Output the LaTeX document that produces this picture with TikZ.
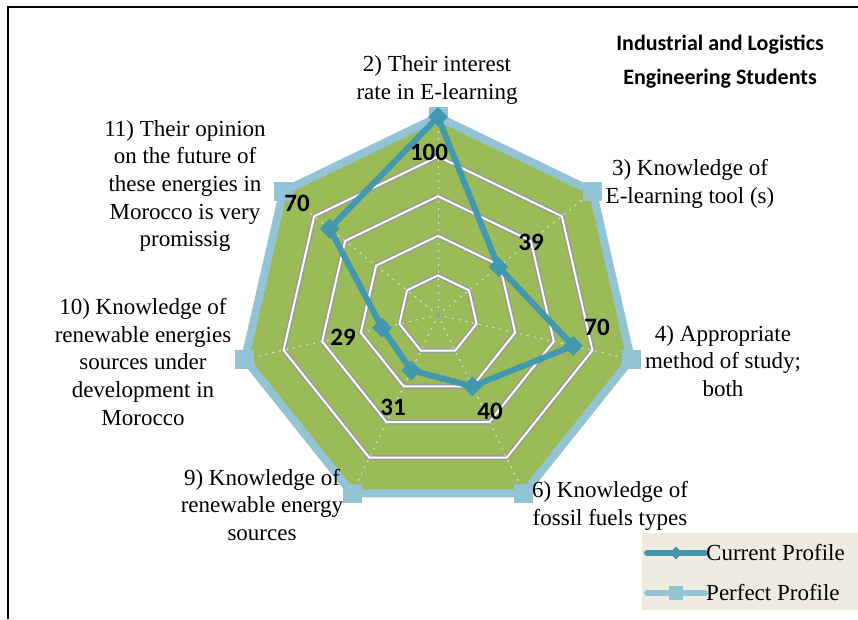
\documentclass[tikz,border=0pt]{standalone}
\usepackage{fontspec}
\setmainfont{Liberation Serif}
\newfontfamily\calibri{Carlito}
\usetikzlibrary{shapes.geometric}
\definecolor{chartgreen}{HTML}{9BBB59}
\definecolor{currentblue}{HTML}{4198AF}
\definecolor{perfectblue}{HTML}{93C4D6}
\definecolor{legendbg}{HTML}{EEECE1}
\definecolor{ringgray}{HTML}{9A9A9A}
\begin{document}
\begin{tikzpicture}[x=1pt,y=1pt,axislabel/.style={align=center,inner sep=0pt,font=\fontsize{23}{27.7}\selectfont},value/.style={inner sep=0pt,font=\calibri\bfseries\fontsize{25}{25}\selectfont},curline/.style={currentblue,line width=6pt,line join=round},perfline/.style={perfectblue,line width=8pt,line join=miter},curmark/.style={diamond,fill=currentblue,minimum size=20pt,inner sep=0pt},perfmark/.style={rectangle,fill=perfectblue,minimum size=19pt,inner sep=0pt},spoke/.style={white!75!gray,line width=1pt,dash pattern=on 2pt off 5pt},legendtext/.style={anchor=west,inner sep=0pt,font=\fontsize{23}{27.7}\selectfont}]
\useasboundingbox (0,0) rectangle (858,619);
\draw[line width=2pt] (8,0) -- (8,612) -- (858,612);
\begin{scope}[shift={(438,304)}]
\fill[chartgreen] (90:198) \foreach \k in {1,...,6}{ -- ({90-\k*360/7}:198)} -- cycle;
\foreach \r in {39.6,79.2,118.8,158.4}{
\draw[ringgray,line width=5pt] (90:\r) \foreach \k in {1,...,6}{ -- ({90-\k*360/7}:\r)} -- cycle;
\draw[white,line width=2pt] (90:\r) \foreach \k in {1,...,6}{ -- ({90-\k*360/7}:\r)} -- cycle;
}
\foreach \k in {0,...,6} \draw[spoke] (0,0) -- ({90-\k*360/7}:198);
\fill[ringgray] (0,0) circle (2.5pt);
\foreach \k in {0,...,6} \coordinate (perf\k) at ({90-\k*360/7}:198);
\foreach \k/\v in {0/100,1/39,2/70,3/40,4/31,5/29,6/70} \coordinate (cur\k) at ({90-\k*360/7}:{1.98*\v});
\end{scope}
\draw[perfline] (perf0) -- (perf1) -- (perf2) -- (perf3) -- (perf4) -- (perf5) -- (perf6) -- cycle;
\foreach \k in {0,...,6} \node[perfmark] (pm\k) at (perf\k) {};
\draw[curline] (cur0) -- (cur1) -- (cur2) -- (cur3) -- (cur4) -- (cur5) -- (cur6) -- cycle;
\foreach \k in {0,...,6} \node[curmark] (cm\k) at (cur\k) {};
\node[value] (v2) at (429,467) {100};
\node[value] (v3) at (531,377) {39};
\node[value] (v4) at (597,292) {70};
\node[value] (v6) at (490,208) {40};
\node[value] (v9) at (393,212) {31};
\node[value] (v10) at (343,282) {29};
\node[value] (v11) at (297,416) {70};
\node[axislabel] (ax2) at (437,539) {2) Their interest\\rate in E-learning};
\node[axislabel] (ax3) at (690,435) {3) Knowledge of\\E-learning tool (s)};
\node[axislabel] (ax4) at (723,258) {4) Appropriate\\method of study;\\both};
\node[axislabel] (ax6) at (610,113) {6) Knowledge of\\fossil fuels types};
\node[axislabel] (ax9) at (262,114) {9) Knowledge of\\renewable energy\\sources};
\node[axislabel] (ax10) at (143,257) {10) Knowledge of\\renewable energies\\sources under\\development in\\Morocco};
\node[axislabel] (ax11) at (185,433) {11) Their opinion\\on the future of\\these energies in\\Morocco is very\\promissig};
\node[align=center,inner sep=0pt,font=\calibri\bfseries\fontsize{22}{34}\selectfont] (title) at (720,557) {Industrial and Logistics\\Engineering Students};
\fill[legendbg] (642,9) rectangle (858,86);
\coordinate (lc1) at (647,66);
\coordinate (lc2) at (705,66);
\coordinate (lp1) at (647,26);
\coordinate (lp2) at (705,26);
\draw[curline,line cap=round] (lc1) -- (lc2);
\node[curmark,minimum size=13pt] (lcm) at (676,66) {};
\draw[perfline,line width=6pt,line cap=round] (lp1) -- (lp2);
\node[perfmark,minimum size=14pt] (lpm) at (676,26) {};
\node[legendtext] (lcur) at (706,66) {Current Profile};
\node[legendtext] (lperf) at (706,26) {Perfect Profile};
\end{tikzpicture}
\end{document}
